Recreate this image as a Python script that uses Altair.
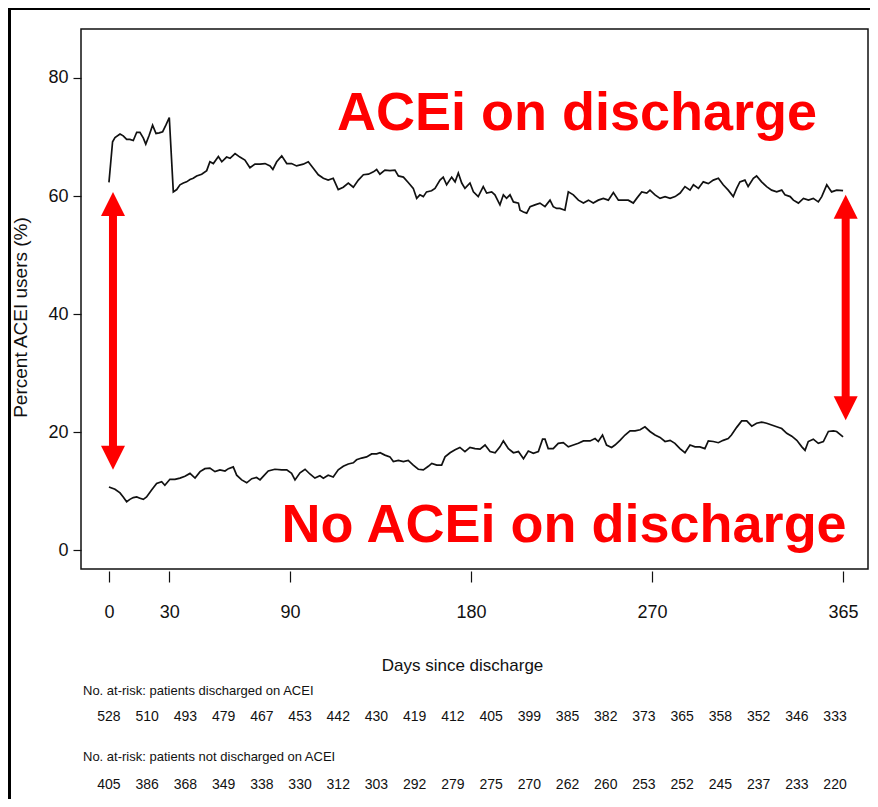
import altair as alt
import pandas as pd

# ---------------- data ----------------
up_days = [0, 1.8, 3, 5.5, 7.1, 8.8, 10.4, 12.1, 13.8, 15.4, 17.1, 18.3, 20, 21.7, 23.4, 25, 26.7, 28.3, 30,
           32, 33.7, 35.3, 37, 38.6, 40.3, 41.9, 43.6, 46.1, 48.6, 50.2, 51.9, 54.4, 56.1, 58.5, 60.2, 62.7,
           65.1, 67.6, 70.1, 72.6, 75.1, 77.6, 80.1, 81.5, 83.4, 85.9, 88.4, 90.8, 93.3, 96.6, 99.1, 101.6,
           104.1, 106.6, 109, 111.5, 114, 116.5, 119, 121.5, 124, 126.5, 129, 131.5, 133.1, 134.7, 137.2,
           139.7, 142.2, 143.9, 146.4, 148.8, 151.3, 153, 154.6, 156.3, 157.9, 160.4, 162.1, 164.6, 166.2,
           167.9, 170.4, 172.1, 173.7, 175.4, 177, 179.5, 181.2, 183.6, 186.1, 187.8, 190.3, 191.9, 194.4,
           196.1, 197.7, 199.4, 201.1, 203.6, 204.4, 206.1, 207.7, 209.4, 211.8, 214.3, 216.8, 219.3, 220.9,
           222.6, 224.2, 226.7, 228.4, 230.9, 233.4, 235.9, 238.4, 240.8, 243.3, 245.8, 248.3, 250.8, 253.3,
           255.7, 258.2, 260.7, 262.4, 264.9, 267.4, 269, 271.5, 274, 276.5, 279, 281.5, 284, 286.4, 288.9,
           290.6, 293.1, 295.5, 298, 300.5, 303, 305.4, 307.9, 310.4, 312.1, 313.7, 316.2, 317.8, 320.4, 322,
           324.5, 327, 329.5, 332, 334.5, 336.1, 338.7, 340.3, 342.8, 345.3, 347.8, 350.2, 352.7, 354.4,
           356.9, 359.3, 361.8, 365]
up_vals = [62.3, 69.2, 69.9, 70.5, 70.2, 69.6, 69.6, 69.4, 70.8, 70.8, 69.8, 68.8, 70.3, 72.0, 70.6, 70.7, 70.9, 72.0, 73.3,
           60.7, 61.1, 61.9, 62.2, 62.4, 62.8, 63.0, 63.4, 63.7, 64.3, 65.8, 65.5, 66.7, 65.8, 66.6, 66.4, 67.2,
           66.6, 66.1, 64.8, 65.4, 65.4, 65.5, 65.1, 64.5, 65.8, 66.8, 65.5, 65.5, 65.1, 65.4, 65.8, 64.7,
           63.6, 63.0, 62.7, 63.0, 61.1, 61.5, 62.2, 61.5, 62.7, 63.6, 63.7, 64.1, 64.5, 63.7, 64.4,
           64.3, 64.4, 63.4, 63.2, 62.3, 61.3, 59.6, 60.2, 59.9, 60.7, 60.9, 61.3, 62.7, 63.2,
           61.9, 63.2, 62.4, 63.9, 62.2, 61.3, 62.2, 60.7, 59.9, 61.6, 60.5, 60.7, 60.2, 58.5,
           60.2, 59.6, 60.2, 59.0, 58.8, 57.6, 57.3, 57.1, 58.2, 58.5, 58.8, 58.2, 59.3, 58.2,
           57.9, 57.9, 57.6, 60.7, 60.2, 59.3, 58.8, 59.3, 58.8, 59.3, 59.6, 59.3, 60.6, 59.3,
           59.3, 59.3, 58.8, 59.6, 60.7, 60.5, 61.0, 60.2, 59.6, 59.9, 59.6, 59.9, 60.5, 61.6, 61.0,
           61.9, 61.3, 62.4, 62.1, 62.7, 63.0, 61.9, 61.0, 59.9, 61.3, 62.4, 62.7, 61.6, 63.0, 63.4,
           62.4, 61.6, 61.0, 60.7, 61.0, 60.2, 59.9, 59.3, 58.8, 59.6, 59.3, 59.6, 59.0, 59.9,
           61.9, 60.7, 61.0, 60.9]

lo_days = [0, 3, 5.5, 7.1, 8.8, 10.4, 12.1, 13.8, 15.4, 17.1, 18.7, 21.2, 23.7, 26.2, 27.8, 30.3, 32.8, 35.3,
           37.8, 40.3, 42.8, 45.3, 47.7, 50.2, 52.7, 55.2, 57.7, 59.4, 61.8, 63.5, 66, 68.5, 71, 73.4, 75.1,
           76.7, 79.2, 82.5, 85.9, 88.4, 90.8, 92.5, 95, 97.5, 99.9, 102.4, 104.9, 106.6, 109, 111.5, 114,
           116.5, 119, 121.5, 123.1, 125.6, 128.1, 130.6, 133.1, 134.8, 137.2, 139.7, 141.4, 143.9, 146.4,
           148.8, 151.3, 153.8, 156.3, 158.8, 160.5, 163, 165.4, 167.1, 169.6, 172.1, 174.5, 177, 179.5, 182,
           184.5, 187, 189.5, 192, 194.4, 196.1, 198.6, 201.1, 203.6, 206.1, 208.5, 211, 213.5, 215.6, 216.8,
           218.4, 220.9, 223.4, 225.9, 228.4, 230.9, 233.4, 235.9, 239.2, 241.7, 243.3, 245.4, 247.4, 249.9,
           251.6, 254.1, 256.6, 259.1, 261.6, 264.1, 266.5, 269, 271.5, 274, 276.5, 279, 281.4, 283.9, 286.4,
           288.9, 291.4, 293.8, 296.3, 298, 300.5, 303, 305.4, 307.9, 309.5, 312.1, 314.6, 317.1, 319.6, 322,
           324.5, 327, 329.5, 332, 334.5, 337, 339.5, 342, 344.5, 346.1, 347.7, 350.2, 352.7, 355.2, 357.7,
           360.2, 361.8, 365]
lo_vals = [10.7, 10.3, 9.7, 9.0, 8.2, 8.6, 8.9, 9.0, 8.8, 8.6, 9.0, 10.2, 11.3, 11.6, 11.0, 12.0, 12.0, 12.2,
           12.5, 13.0, 12.2, 13.3, 13.8, 13.9, 13.3, 13.6, 13.4, 13.8, 14.1, 12.7, 11.9, 11.4, 12.1, 12.3, 11.9,
           12.5, 13.4, 13.7, 13.6, 13.6, 13.0, 11.9, 13.1, 13.7, 12.9, 12.2, 12.6, 12.2, 12.7, 12.4, 13.6,
           14.2, 14.6, 14.8, 15.3, 15.6, 15.8, 16.3, 16.3, 16.5, 16.1, 15.8, 15.0, 15.2, 15.0,
           15.2, 14.4, 13.7, 13.6, 14.2, 14.7, 14.4, 14.4, 15.8, 16.5, 17.0, 17.4, 16.7, 17.4, 17.2,
           17.1, 17.8, 16.7, 16.5, 17.5, 18.5, 17.2, 16.5, 16.7, 15.5, 16.8, 16.4, 16.7, 18.8, 18.8,
           17.2, 17.2, 18.1, 18.2, 17.5, 17.8, 18.1, 18.5, 18.5, 18.9, 18.4, 19.5, 17.8, 17.4,
           17.8, 18.6, 19.5, 20.2, 20.2, 20.4, 20.9, 20.1, 19.5, 19.1, 18.4, 18.6, 18.1, 17.2, 16.5,
           17.8, 17.5, 17.5, 17.2, 18.5, 18.4, 18.2, 18.6, 18.9, 19.5, 20.8, 21.9, 21.9, 21.0, 21.5,
           21.7, 21.5, 21.2, 20.9, 20.6, 19.8, 19.3, 18.6, 17.5, 16.9, 18.4, 18.8, 18.1, 18.4, 20.1,
           20.2, 20.1, 19.2]

x_ticks = [0, 30, 90, 180, 270, 365]
y_ticks = [0, 20, 40, 60, 80]

risk_days = [0, 19, 38, 57, 76, 95, 114, 133, 152, 171, 190, 209, 228, 247, 266, 285, 304, 323, 342, 361]
risk_on = [528, 510, 493, 479, 467, 453, 442, 430, 419, 412, 405, 399, 385, 382, 373, 365, 358, 352, 346, 333]
risk_off = [405, 386, 368, 349, 338, 330, 312, 303, 292, 279, 275, 270, 262, 260, 253, 252, 245, 237, 233, 220]

arrow_x = [2.0, 366.3]
arrow_top = [60.7, 60.2]
arrow_bot = [13.6, 22.0]

labels = ["ACEi on discharge", "No ACEi on discharge"]
label_x = [232.7, 226.3]
label_y = [71.2, 1.4]

# ---------------- build ----------------
SANS = "Liberation Sans, Arial, Helvetica, sans-serif"
INK = "#111111"
RED = "#ff0000"

df_up = pd.DataFrame({"day": up_days, "pct": up_vals})
df_lo = pd.DataFrame({"day": lo_days, "pct": lo_vals})
df_risk = pd.DataFrame({"day": risk_days, "on": risk_on, "off": risk_off})
df_arrow = pd.DataFrame({"day": arrow_x, "top": arrow_top, "bot": arrow_bot})
df_arrow["s_top"] = df_arrow["top"] - 3.5
df_arrow["s_bot"] = df_arrow["bot"] + 3.5
df_lab = pd.DataFrame({"day": label_x, "pct": label_y, "txt": labels})
one = pd.DataFrame({"k": [0]})

W, H = 787, 540
xs = alt.Scale(domain=[-13.9, 377.4], nice=False, zero=False)
ys = alt.Scale(domain=[-3.2, 88.3], nice=False, zero=False)

x_enc = alt.X("day:Q", scale=xs, axis=alt.Axis(
    values=x_ticks, title="Days since discharge", offset=2, tickSize=11, zindex=1,
    domain=False, grid=False, tickColor=INK, tickWidth=1.2, labelColor=INK, titleColor=INK,
    labelPadding=30, labelBaseline="middle", labelFont=SANS, labelFontSize=18,
    titleFont=SANS, titleFontSize=17, titleFontWeight="normal",
    titleX=381, titleY=94, titleBaseline="middle", titleAlign="center"))
y_enc = alt.Y("pct:Q", scale=ys, axis=alt.Axis(
    values=y_ticks, title="Percent ACEI users (%)", tickSize=8, labelPadding=5, zindex=1,
    domain=False, grid=False, tickColor=INK, tickWidth=1.2, labelColor=INK, titleColor=INK,
    labelFont=SANS, labelFontSize=18,
    titleFont=SANS, titleFontSize=19, titleFontWeight="normal", titleAngle=270,
    titleX=-61, titleY=288, titleBaseline="middle", titleAlign="center"))

panel = alt.Chart(one).mark_rect(color="white").encode(
    x=alt.value(-70), x2=alt.value(W + 10), y=alt.value(-19), y2=alt.value(H + 240))
frame = alt.Chart(one).mark_rect(fillOpacity=0, stroke=INK, strokeWidth=1.5).encode(
    x=alt.value(0), x2=alt.value(W), y=alt.value(0), y2=alt.value(H))

line_up = alt.Chart(df_up).mark_line(color=INK, strokeWidth=1.7).encode(x=x_enc, y=y_enc)
line_lo = alt.Chart(df_lo).mark_line(color=INK, strokeWidth=1.7).encode(x="day:Q", y="pct:Q")

shaft = alt.Chart(df_arrow).mark_rule(color=RED, strokeWidth=8).encode(
    x="day:Q", y=alt.Y("s_top:Q"), y2="s_bot:Q")
head_up = alt.Chart(df_arrow).mark_point(shape="M0,0L1,2L-1,2Z", size=576, filled=True,
                                         color=RED, opacity=1, strokeWidth=0).encode(
    x="day:Q", y=alt.Y("top:Q"))
head_dn = alt.Chart(df_arrow).mark_point(shape="M0,0L1,-2L-1,-2Z", size=576, filled=True,
                                         color=RED, opacity=1, strokeWidth=0).encode(
    x="day:Q", y=alt.Y("bot:Q"))

big = alt.Chart(df_lab).mark_text(font=SANS, fontSize=54, fontWeight="bold", color=RED,
                                  align="center", baseline="alphabetic").encode(
    x="day:Q", y="pct:Q", text="txt:N")

hdr1 = alt.Chart(one).mark_text(
    font=SANS, fontSize=13, color=INK, align="left", baseline="middle").encode(
    x=alt.value(2), y=alt.value(662), text=alt.value("No. at-risk: patients discharged on ACEI"))
hdr2 = alt.Chart(one).mark_text(
    font=SANS, fontSize=13, color=INK, align="left", baseline="middle").encode(
    x=alt.value(2), y=alt.value(728), text=alt.value("No. at-risk:  patients not discharged on ACEI"))
row1 = alt.Chart(df_risk).mark_text(font=SANS, fontSize=14, color=INK,
                                    align="center", baseline="middle").encode(
    x="day:Q", y=alt.value(688), text="on:Q")
row2 = alt.Chart(df_risk).mark_text(font=SANS, fontSize=14, color=INK,
                                    align="center", baseline="middle").encode(
    x="day:Q", y=alt.value(756), text="off:Q")

chart = alt.layer(panel, line_up, frame, line_lo, shaft, head_up, head_dn, big,
                  hdr1, hdr2, row1, row2).properties(
    width=W, height=H,
    autosize=alt.AutoSizeParams(type="none"),
    padding={"left": 73, "top": 21, "right": 2, "bottom": 230},
    background="#000000",
).configure_view(
    strokeWidth=0, fill=None
)

chart.save("out.html", embed_options={"renderer": "svg", "actions": False})
